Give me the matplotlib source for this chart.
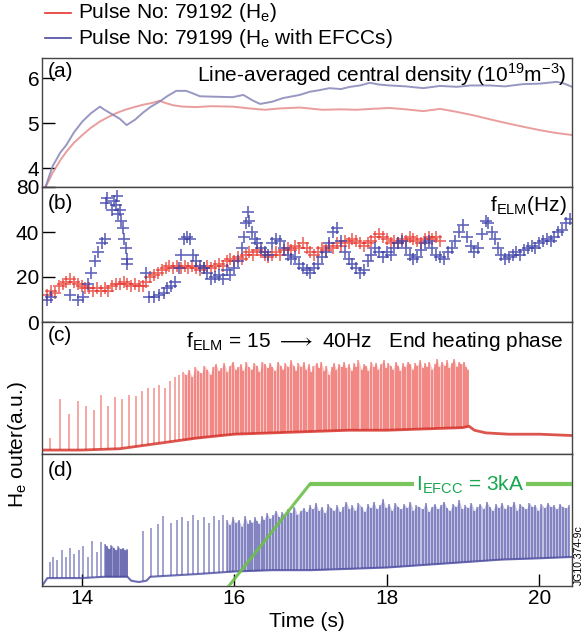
import numpy as np
import matplotlib
matplotlib.use("Agg")
import matplotlib.pyplot as plt
from matplotlib.lines import Line2D

plt.rcParams['font.family'] = ['Liberation Sans', 'DejaVu Sans']
plt.rcParams['mathtext.fontset'] = 'custom'
plt.rcParams['mathtext.rm'] = 'Liberation Sans'

# ---- (a) line-averaged density ----
dens_red_t = [13.52, 13.62, 13.72, 13.8, 13.9, 14.01, 14.12, 14.24, 14.35, 14.46, 14.57, 14.67, 14.8,
              14.92, 15.02, 15.1, 15.2, 15.33, 15.5, 15.7, 15.98, 16.2, 16.4, 16.6, 16.86, 17.16,
              17.4, 17.6, 17.8, 18.04, 18.25, 18.48, 18.7, 18.9, 19.13, 19.35, 19.58, 19.8, 20.0,
              20.2, 20.43]
dens_red = [3.56, 3.9, 4.18, 4.37, 4.57, 4.74, 4.9, 5.04, 5.14, 5.23, 5.3, 5.35, 5.41,
            5.45, 5.5, 5.45, 5.4, 5.37, 5.36, 5.38, 5.37, 5.33, 5.3, 5.33, 5.35, 5.3,
            5.31, 5.3, 5.32, 5.34, 5.31, 5.27, 5.32, 5.26, 5.18, 5.09, 5.0, 4.92, 4.85,
            4.79, 4.74]
dens_blue_t = [13.52, 13.62, 13.72, 13.8, 13.9, 14.01, 14.12, 14.24, 14.3, 14.4, 14.5, 14.59, 14.7,
               14.8, 14.9, 15.02, 15.12, 15.24, 15.37, 15.45, 15.55, 15.75, 15.98, 16.12, 16.25,
               16.34, 16.5, 16.64, 16.86, 16.99, 17.1, 17.25, 17.4, 17.52, 17.65, 17.78, 17.9,
               18.04, 18.25, 18.48, 18.7, 18.92, 19.1, 19.35, 19.55, 19.79, 20.0, 20.23, 20.33, 20.43]
dens_blue = [3.56, 4.05, 4.35, 4.52, 4.8, 5.04, 5.22, 5.37, 5.3, 5.2, 5.1, 4.96, 5.08,
             5.23, 5.36, 5.48, 5.6, 5.72, 5.72, 5.67, 5.6, 5.59, 5.58, 5.63, 5.5,
             5.43, 5.48, 5.56, 5.63, 5.7, 5.73, 5.78, 5.76, 5.81, 5.84, 5.9, 5.86,
             5.84, 5.82, 5.78, 5.83, 5.81, 5.84, 5.84, 5.82, 5.87, 5.88, 5.92, 5.88, 5.81]

# ---- (b) ELM frequency ----
felm_red_t = [13.55, 13.6, 13.65, 13.7, 13.75, 13.8, 13.85, 13.9, 13.95, 14.0, 14.05, 14.1, 14.15, 14.2,
              14.25, 14.3, 14.35, 14.4, 14.45, 14.5, 14.55, 14.6, 14.65, 14.7, 14.75, 14.8, 14.85,
              14.9, 14.95, 15.0, 15.05, 15.1, 15.15, 15.2, 15.25, 15.3, 15.35, 15.4, 15.45, 15.5,
              15.55, 15.6, 15.65, 15.7, 15.75, 15.8, 15.85, 15.9, 15.95, 16.0, 16.05, 16.1, 16.15,
              16.2, 16.25, 16.3, 16.35, 16.4, 16.45, 16.5, 16.55, 16.6, 16.65, 16.7, 16.75, 16.8,
              16.85, 16.9, 16.95, 17.0, 17.05, 17.1, 17.15, 17.2, 17.25, 17.3, 17.35, 17.4, 17.45,
              17.5, 17.55, 17.6, 17.65, 17.7, 17.75, 17.8, 17.85, 17.9, 17.95, 18.0, 18.05, 18.1,
              18.15, 18.2, 18.25, 18.3, 18.35, 18.4, 18.45, 18.5, 18.55, 18.6, 18.65, 18.7]
felm_red = [12, 14, 13, 16, 17, 18, 19, 18, 17, 16, 15, 15, 14, 15,
            14, 15, 14, 16, 17, 17, 18, 17, 16, 17, 16, 16, 18,
            20, 21, 22, 23, 24, 25, 24, 25, 24, 25, 24, 25, 24,
            23, 24, 25, 24, 25, 26, 25, 27, 28, 27, 29, 28, 30,
            31, 30, 32, 31, 30, 29, 30, 31, 30, 32, 33, 32, 34,
            33, 35, 33, 31, 30, 31, 33, 32, 34, 33, 35, 34, 36,
            35, 37, 36, 35, 34, 35, 36, 38, 39, 38, 37, 35, 36,
            35, 37, 36, 38, 37, 36, 35, 37, 38, 37, 38, 36]
felm_blue_t = [13.55, 13.6, 13.85, 13.95, 14.02, 14.08, 14.12, 14.18, 14.22, 14.27, 14.3, 14.32, 14.33,
               14.4, 14.43, 14.45, 14.47, 14.48, 14.5, 14.52, 14.54, 14.56, 14.58, 14.59, 14.6,
               14.85, 14.88, 14.95, 15.02, 15.08, 15.12, 15.17, 15.22, 15.27, 15.3, 15.34, 15.38,
               15.42, 15.46, 15.5, 15.55, 15.6, 15.65, 15.7, 15.75, 15.8, 15.85, 15.9, 15.95, 16.0,
               16.05, 16.1, 16.13, 16.16, 16.18, 16.2, 16.23, 16.27, 16.3, 16.35, 16.4, 16.45, 16.5,
               16.55, 16.6, 16.65, 16.7, 16.75, 16.8, 16.85, 16.9, 16.95, 17.0, 17.05, 17.1, 17.15,
               17.2, 17.25, 17.3, 17.35, 17.4, 17.45, 17.5, 17.55, 17.6, 17.65, 17.7, 17.75, 17.8,
               17.85, 17.9, 17.95, 18.0, 18.05, 18.1, 18.15, 18.2, 18.25, 18.3, 18.35, 18.4, 18.45,
               18.5, 18.55, 18.6, 18.65, 18.7, 18.75, 18.8, 18.85, 18.9, 18.95, 19.0, 19.05, 19.1,
               19.15, 19.2, 19.25, 19.3, 19.33, 19.38, 19.42, 19.46, 19.5, 19.55, 19.6, 19.65, 19.7,
               19.75, 19.8, 19.85, 19.9, 19.95, 20.0, 20.05, 20.1, 20.15, 20.2, 20.25, 20.3, 20.35, 20.4]
felm_blue = [10, 11, 12, 10, 11, 17, 22, 27, 31, 35, 37, 53, 55,
             50, 54, 52, 56, 48, 50, 45, 42, 37, 33, 28, 26,
             22, 11, 11, 12, 13, 15, 16, 18, 24, 30, 37, 38,
             37, 30, 27, 25, 24, 22, 19, 20, 21, 19, 23, 21, 24,
             27, 33, 38, 44, 49, 45, 40, 37, 35, 33, 31, 30, 35,
             37, 36, 33, 30, 28, 29, 26, 24, 23, 22, 24, 26, 29,
             31, 35, 40, 42, 36, 31, 28, 26, 24, 22, 23, 27, 30,
             33, 31, 29, 31, 30, 33, 35, 36, 33, 30, 28, 29, 32,
             35, 36, 33, 30, 29, 28, 31, 33, 36, 40, 43, 38, 34,
             31, 33, 39, 45, 44, 40, 37, 33, 30, 28, 29, 30, 31,
             30, 32, 33, 34, 33, 35, 36, 37, 36, 38, 40, 41, 44, 46]

# ---- (c) H-alpha, pulse 79192 ----
red_elm_t = [13.58, 13.71, 13.83, 13.95, 14.06, 14.16, 14.26, 14.35, 14.44, 14.53, 14.62, 14.71, 14.79,
             14.87, 14.95, 15.02, 15.09, 15.16, 15.22, 15.28,
             15.33, 15.37, 15.41, 15.45, 15.49, 15.53, 15.57, 15.61, 15.65, 15.69,
             15.72, 15.76, 15.80, 15.83, 15.87, 15.91, 15.94, 15.98, 16.02, 16.05,
             16.09, 16.12, 16.16, 16.19, 16.23, 16.26, 16.30, 16.33, 16.37, 16.40,
             16.44, 16.47, 16.50, 16.54, 16.57, 16.61, 16.64, 16.67, 16.71, 16.74,
             16.78, 16.81, 16.84, 16.88, 16.91, 16.94, 16.98, 17.01, 17.04, 17.08,
             17.11, 17.14, 17.18, 17.21, 17.24, 17.28, 17.31, 17.34, 17.37, 17.41,
             17.44, 17.47, 17.50, 17.54, 17.57, 17.60, 17.63, 17.67, 17.70, 17.73,
             17.76, 17.80, 17.83, 17.86, 17.89, 17.92, 17.96, 17.99, 18.02, 18.05,
             18.08, 18.12, 18.15, 18.18, 18.21, 18.24, 18.28, 18.31, 18.34, 18.37,
             18.40, 18.44, 18.47, 18.50, 18.53, 18.56, 18.60, 18.63, 18.66, 18.69,
             18.72, 18.76, 18.79, 18.82, 18.85, 18.88, 18.92, 18.95, 18.98, 19.01,
             19.04, 19.07]
red_elm_top = [0.12, 0.42, 0.3, 0.4, 0.36, 0.33, 0.45, 0.36, 0.43, 0.42, 0.45, 0.44, 0.48,
               0.5, 0.5, 0.52, 0.5, 0.55, 0.58, 0.6,
               .62, .6, .64, .58, .66, .63, .61, .67, .64, .6,
               .66, .68, .63, .65, .69, .62, .67, .7, .64, .66,
               .68, .63, .7, .66, .64, .69, .67, .62, .7, .68,
               .65, .69, .66, .63, .7, .67, .64, .69, .66, .71,
               .67, .63, .69, .66, .7, .64, .68, .62, .67, .69,
               .65, .7, .63, .67, .6, .66, .69, .64, .68, .66,
               .7, .65, .68, .63, .69, .66, .71, .64, .68, .67,
               .63, .7, .66, .69, .64, .68, .71, .65, .69, .67,
               .64, .7, .67, .63, .69, .66, .7, .68, .64, .69,
               .67, .71, .65, .69, .66, .7, .64, .68, .72, .66,
               .7, .67, .71, .65, .69, .72, .66, .7, .68, .7,
               .66, .64]
red_base_t = [13.48, 14.0, 14.5, 15.0, 15.5, 16.0, 16.5, 17.0, 17.5, 18.0, 18.5, 19.0, 19.08,
              19.15, 19.3, 19.6, 20.0, 20.43]
red_base = [0.03, 0.03, 0.04, 0.08, 0.12, 0.15, 0.16, 0.17, 0.18, 0.18, 0.19, 0.2, 0.21,
            0.18, 0.16, 0.15, 0.15, 0.14]

# ---- (d) H-alpha, pulse 79199 (with EFCCs) ----
blue_elm_t = [13.58, 13.63, 13.68, 13.74, 13.79, 13.85, 13.9, 13.96, 14.02, 14.08, 14.14, 14.2, 14.26,
              14.3, 14.33, 14.36, 14.39, 14.42, 14.45, 14.48, 14.51, 14.54, 14.57, 14.6,
              14.81, 14.91, 15.0, 15.07, 15.17, 15.25, 15.32, 15.39, 15.46, 15.53, 15.6, 15.67,
              15.74, 15.8, 15.86,
              15.90, 15.94, 15.98, 16.02, 16.06, 16.10, 16.14, 16.18, 16.21, 16.24,
              16.27, 16.30, 16.33, 16.36, 16.39, 16.43, 16.47, 16.51, 16.55, 16.59,
              16.63, 16.67, 16.71, 16.75, 16.79, 16.83, 16.87, 16.91, 16.95, 16.99,
              17.03, 17.07, 17.11, 17.15, 17.19, 17.23, 17.27, 17.31, 17.35, 17.39,
              17.43, 17.47, 17.51, 17.55, 17.59, 17.63, 17.67, 17.71, 17.75, 17.79,
              17.83, 17.87, 17.91, 17.95, 17.99, 18.03, 18.07, 18.11, 18.15, 18.19,
              18.23, 18.27, 18.31, 18.35, 18.39, 18.43, 18.47, 18.51, 18.55, 18.59,
              18.63, 18.67, 18.71, 18.75, 18.79, 18.83, 18.87, 18.91, 18.95, 18.99,
              19.03, 19.07, 19.11, 19.15, 19.19, 19.23, 19.27, 19.31, 19.35, 19.39,
              19.43, 19.47, 19.51, 19.55, 19.59, 19.63, 19.67, 19.71, 19.75, 19.79,
              19.83, 19.87, 19.91, 19.95, 19.99, 20.03, 20.07, 20.11, 20.15, 20.19,
              20.23, 20.27, 20.31, 20.35, 20.39]
blue_elm_top = [0.18, 0.22, 0.2, 0.27, 0.22, 0.29, 0.24, 0.27, 0.3, 0.22, 0.34, 0.26, 0.33,
                0.32, 0.3, 0.28, 0.31, 0.29, 0.27, 0.3, 0.28, 0.29, 0.27, 0.28,
                0.42, 0.44, 0.47, 0.53, 0.48, 0.5, 0.52, 0.49, 0.54, 0.5, 0.52, 0.48,
                0.53, 0.5, 0.54,
                .5, .46, .52, .48, .5, .45, .53, .47, .5, .48,
                .52, .49, .47, .53, .5, .55, .51, .54, .57, .52,
                .56, .53, .58, .55, .6, .54, .57, .59, .56, .61,
                .58, .63, .57, .6, .55, .62, .59, .57, .61, .56,
                .6, .64, .58, .61, .57, .63, .6, .56, .62, .59,
                .64, .58, .61, .66, .59, .62, .57, .63, .6, .58,
                .62, .59, .64, .57, .61, .6, .58, .63, .56, .6,
                .62, .58, .61, .64, .59, .57, .62, .6, .65, .58,
                .61, .59, .63, .57, .6, .62, .58, .64, .6, .57,
                .62, .59, .63, .58, .61, .6, .64, .57, .62, .6,
                .58, .63, .6, .61, .57, .62, .59, .63, .6, .61,
                .58, .62, .6, .59, .61]
blue_base_t = [13.48, 13.55, 14.0, 14.3, 14.6, 14.65, 14.75, 14.85, 14.9, 15.5, 16.0, 16.5, 17.0,
               17.5, 18.0, 18.5, 19.0, 19.5, 20.0, 20.43]
blue_base = [0.0, 0.06, 0.06, 0.07, 0.07, 0.04, 0.03, 0.04, 0.07, 0.09, 0.11, 0.12, 0.12,
             0.13, 0.14, 0.16, 0.18, 0.2, 0.21, 0.22]

efcc_t = [15.93, 16.99, 20.43]
efcc_ka = [0.0, 3.0, 3.0]

xlim = (13.48, 20.43)
W, H = 584, 644
fig = plt.figure(figsize=(W / 100, H / 100), dpi=100)
left, right = 42 / W, 572 / W


def rect(top_px, bot_px):
    return [left, 1 - bot_px / H, right - left, (bot_px - top_px) / H]


ax_a = fig.add_axes(rect(58, 187))
ax_b = fig.add_axes(rect(187, 322))
ax_c = fig.add_axes(rect(322, 454))
ax_d = fig.add_axes(rect(454, 586))

fs = 15
red_c, blue_c = '#e8342c', '#3c3c9a'

for ax in (ax_a, ax_b, ax_c, ax_d):
    ax.set_xlim(*xlim)
    for s in ax.spines.values():
        s.set_color('#444444')
        s.set_linewidth(1.0)
    ax.tick_params(direction='in', length=9, width=1, labelsize=fs, pad=2,
                   bottom=False, labelbottom=False)

# (a)
ax_a.plot(dens_red_t, dens_red, color='#e58585', lw=1.4, alpha=0.8)
ax_a.plot(dens_blue_t, dens_blue, color='#8585b8', lw=1.4, alpha=0.85)
ax_a.set_ylim(3.585, 6.45)
ax_a.set_yticks([4, 5, 6])
ax_a.text(0.01, 0.97, '(a)', transform=ax_a.transAxes, fontsize=fs, va='top')
ax_a.text(0.99, 0.97, 'Line-averaged central density (10$^{19}$m$^{-3}$)',
          transform=ax_a.transAxes, fontsize=fs, va='top', ha='right')

# (b)
ax_b.plot(felm_red_t, felm_red, '+', color=red_c, ms=8, mew=1.2, alpha=0.75)
ax_b.plot(felm_blue_t, felm_blue, '+', color='#3a40a8', ms=8, mew=1.2, alpha=0.8)
ax_b.set_ylim(0, 60)
ax_b.set_yticks([0, 20, 40, 60])
ax_b.set_yticklabels(['0', '20', '40', '80'])
ax_b.text(0.01, 0.95, '(b)', transform=ax_b.transAxes, fontsize=fs, va='top')
ax_b.text(0.99, 0.95, 'f$_\\mathrm{ELM}$(Hz)', transform=ax_b.transAxes, fontsize=fs,
          va='top', ha='right')

# (c)
r_base = np.interp(red_elm_t, red_base_t, red_base)
ax_c.fill_between(red_elm_t[20:], r_base[20:], red_elm_top[20:],
                  color='#f6b4b4', alpha=0.75, lw=0)
ax_c.vlines(red_elm_t, r_base, red_elm_top, color=red_c, lw=1.1, alpha=0.55)
ax_c.plot(red_base_t, red_base, color='#d42a22', lw=2.0, alpha=0.8)
ax_c.set_ylim(0, 1)
ax_c.set_yticks([])
ax_c.text(0.01, 0.97, '(c)', transform=ax_c.transAxes, fontsize=fs, va='top')
ax_c.text(0.985, 0.94, 'f$_\\mathrm{ELM}$ = 15 $\\longrightarrow$ 40Hz   End heating phase',
          transform=ax_c.transAxes, fontsize=fs, va='top', ha='right')

# (d)
b_base = np.interp(blue_elm_t, blue_base_t, blue_base)
ax_d.fill_between(blue_elm_t[39:], b_base[39:], blue_elm_top[39:],
                  color='#aeaedb', alpha=0.75, lw=0)
ax_d.fill_between(blue_elm_t[13:24], b_base[13:24], blue_elm_top[13:24],
                  color='#5a5aa8', alpha=0.6, lw=0)
ax_d.vlines(blue_elm_t, b_base, blue_elm_top, color=blue_c, lw=1.1, alpha=0.6)
ax_d.plot(blue_base_t, blue_base, color='#4a4aa0', lw=1.5, alpha=0.8)
ax_d.set_ylim(0, 1)
ax_d.set_yticks([])
ax_d.tick_params(bottom=True, labelbottom=True, left=False)
ax_d.set_xticks([14, 16, 18, 20])
ax_d.set_xlabel('Time (s)', fontsize=fs, labelpad=3)
ax_d.text(0.01, 0.95, '(d)', transform=ax_d.transAxes, fontsize=fs, va='top')

ax_i = ax_d.twinx()
ax_i.set_ylim(0, 3 / 0.77)
ax_i.set_yticks([])
ax_i.plot(efcc_t[:2], efcc_ka[:2], color='#6cbf4a', lw=2.2, alpha=0.9)
ax_i.plot(efcc_t[1:], efcc_ka[1:], color='#6cbf4a', lw=3, alpha=0.9, solid_capstyle='butt')
ax_i.text(18.38, 3.0, 'I$_\\mathrm{EFCC}$ = 3kA', color='#1aa550', fontsize=fs, va='center',
          ha='left', bbox=dict(facecolor='white', edgecolor='none', pad=1.5))
for s in ax_i.spines.values():
    s.set_visible(False)

# shared y label and side tag
fig.text(18 / W, 1 - 445 / H, 'H$_\\mathrm{e}$ outer(a.u.)', rotation=90, fontsize=fs,
         ha='center', va='center')
fig.text(579 / W, 1 - 555 / H, 'JG10.374-9c', rotation=90, fontsize=7.5, ha='center', va='center')

# legend at top
for yy, col, lab in [(13, '#e8342c', 'Pulse No: 79192 (H$_\\mathrm{e}$)'),
                     (38, '#4a4aa0', 'Pulse No: 79199 (H$_\\mathrm{e}$ with EFCCs)')]:
    fig.add_artist(Line2D([45 / W, 71 / W], [1 - yy / H] * 2, color=col, lw=1.2,
                          transform=fig.transFigure))
    fig.text(78 / W, 1 - yy / H, lab, fontsize=fs, va='center', ha='left')

fig.savefig('out.png', dpi=100)
